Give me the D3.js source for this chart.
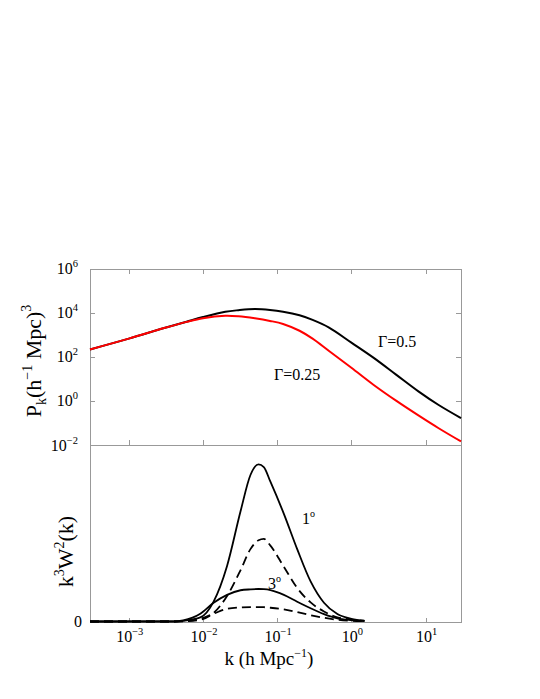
<!DOCTYPE html>
<html>
<head>
<meta charset="utf-8">
<script src="https://cdn.jsdelivr.net/npm/d3@7"></script>
<style>
  body { margin: 0; background: #fff; }
  text { font-family: "Liberation Serif", "Times New Roman", serif; fill: #000; }
</style>
</head>
<body>
<div id="chart"></div>
<script>
// top panel: power spectrum for two shape parameters
const kTop = [3e-4, 1e-3, 3e-3, 6e-3, 0.01, 0.02, 0.03, 0.05, 0.08, 0.12, 0.2, 0.3, 0.5, 1, 2, 4, 8, 15, 30];
const pGamma05 = [214, 661, 1995, 3890, 6310, 10965, 12880, 14450, 13200, 10990, 7550, 4670, 2090, 437, 89, 15.5, 2.7, 0.65, 0.166];
const pGamma025 = [214, 661, 1995, 3800, 5620, 7160, 6790, 5510, 4210, 3075, 1510, 661, 182, 31.6, 5.25, 1.02, 0.219, 0.0575, 0.0145];

// bottom panel: window functions (arbitrary units)
const kWin = [3e-4, 0.004, 0.0054, 0.0092, 0.0139, 0.0211, 0.032, 0.0436, 0.056, 0.066, 0.081, 0.123, 0.186, 0.282, 0.427, 0.647, 1.0, 1.5];
const w1Solid = [0, 0, 0.004, 0.023, 0.113, 0.315, 0.623, 0.83, 0.89, 0.875, 0.792, 0.61, 0.41, 0.227, 0.106, 0.042, 0.015, 0.004];
const w1Dashed = [0, 0, 0.001, 0.01, 0.048, 0.145, 0.29, 0.41, 0.46, 0.468, 0.43, 0.31, 0.19, 0.108, 0.057, 0.024, 0.011, 0.004];
const w3Solid = [0, 0.001, 0.007, 0.044, 0.106, 0.151, 0.177, 0.182, 0.184, 0.183, 0.178, 0.151, 0.112, 0.075, 0.042, 0.018, 0.008, 0.003];
const w3Dashed = [0, 0, 0.002, 0.015, 0.044, 0.072, 0.080, 0.082, 0.082, 0.081, 0.078, 0.069, 0.053, 0.036, 0.021, 0.010, 0.004, 0.002];

// ticks
const kTicks = [1e-3, 1e-2, 1e-1, 1, 10];
const kTickExp = ['\u22123', '\u22122', '\u22121', '0', '1'];
const pTicks = [1e-2, 1, 1e2, 1e4, 1e6];
const pTickExp = ['\u22122', '0', '2', '4', '6'];

const svg = d3.select('#chart').append('svg')
    .attr('width', 540)
    .attr('height', 699);

const x = d3.scaleLog().domain([3e-4, 30]).range([90, 461]);
const yTop = d3.scaleLog().domain([1e-2, 1e6]).range([445, 268.5]);
const yBot = d3.scaleLinear().domain([0, 1]).range([621.5, 445]);

const frame = '#999';

function styleAxis(g) {
    g.selectAll('path, line').attr('stroke', frame).attr('shape-rendering', 'crispEdges');
    g.selectAll('text').remove();
}

// frame + ticks, top panel
svg.append('g').attr('transform', 'translate(0,268.5)')
    .call(d3.axisTop(x).tickValues(kTicks).tickSize(-5).tickSizeOuter(0)).call(styleAxis);
svg.append('g').attr('transform', 'translate(0,445)')
    .call(d3.axisBottom(x).tickValues(kTicks).tickSize(-5).tickSizeOuter(0)).call(styleAxis);
svg.append('g').attr('transform', 'translate(90,0)')
    .call(d3.axisLeft(yTop).tickValues(pTicks).tickSize(-5).tickSizeOuter(0)).call(styleAxis);
svg.append('g').attr('transform', 'translate(461,0)')
    .call(d3.axisRight(yTop).tickValues(pTicks).tickSize(-5).tickSizeOuter(0)).call(styleAxis);

// frame + ticks, bottom panel
svg.append('g').attr('transform', 'translate(0,621.5)')
    .call(d3.axisBottom(x).tickValues(kTicks).tickSize(-4).tickSizeOuter(0)).call(styleAxis);
svg.append('g').attr('transform', 'translate(90,0)')
    .call(d3.axisLeft(yBot).tickValues([]).tickSizeOuter(0)).call(styleAxis);
svg.append('g').attr('transform', 'translate(461,0)')
    .call(d3.axisRight(yBot).tickValues([]).tickSizeOuter(0)).call(styleAxis);

// power-of-ten labels
function powLabel(sel, exps) {
    sel.each(function (d, i) {
        const t = d3.select(this);
        t.append('tspan').style('font-size', '16px').text('10');
        t.append('tspan').attr('dy', -7).style('font-size', '10.5px').text(exps[i]);
    });
}

svg.append('g').selectAll('text').data(kTicks).join('text')
    .attr('x', d => x(d) + 1)
    .attr('y', 641.5)
    .attr('text-anchor', 'middle')
    .call(powLabel, kTickExp);

svg.append('g').selectAll('text').data(pTicks).join('text')
    .attr('x', 78)
    .attr('y', d => yTop(d) + 5.5)
    .attr('text-anchor', 'end')
    .call(powLabel, pTickExp);

svg.append('text')
    .attr('x', 82).attr('y', yBot(0) + 5.5)
    .attr('text-anchor', 'end')
    .style('font-size', '16px')
    .text('0');

// curves
const lineTop = d3.line()
    .x(d => x(d[0]))
    .y(d => yTop(d[1]))
    .curve(d3.curveCatmullRom.alpha(0.5));

svg.append('path').datum(d3.zip(kTop, pGamma05))
    .attr('d', lineTop).attr('fill', 'none')
    .attr('stroke', '#000').attr('stroke-width', 2);
svg.append('path').datum(d3.zip(kTop, pGamma025))
    .attr('d', lineTop).attr('fill', 'none')
    .attr('stroke', '#f00').attr('stroke-width', 2);

const lineBot = d3.line()
    .x(d => x(d[0]))
    .y(d => yBot(d[1]))
    .curve(d3.curveMonotoneX);

const winSeries = [
    { vals: w3Dashed, dash: '9,5' },
    { vals: w3Solid, dash: null },
    { vals: w1Dashed, dash: '9,5' },
    { vals: w1Solid, dash: null }
];
winSeries.forEach(s => {
    svg.append('path').datum(d3.zip(kWin, s.vals))
        .attr('d', lineBot).attr('fill', 'none')
        .attr('stroke', '#000').attr('stroke-width', 1.8)
        .attr('stroke-dasharray', s.dash);
});

// annotations
svg.append('text').attr('x', 378).attr('y', 347).style('font-size', '16px').text('\u0393=0.5');
svg.append('text').attr('x', 274).attr('y', 379.5).style('font-size', '16px').text('\u0393=0.25');

function degLabel(xp, yp, num) {
    const t = svg.append('text').attr('x', xp).attr('y', yp).style('font-size', '16px');
    t.append('tspan').text(num);
    t.append('tspan').attr('dy', -7).style('font-size', '10px').text('o');
}
degLabel(302, 523.5, '1');
degLabel(268, 588.5, '3');

// axis titles
const tTop = svg.append('text')
    .attr('transform', 'translate(41,361) rotate(-90)')
    .attr('text-anchor', 'middle')
    .style('font-size', '22px');
tTop.append('tspan').text('P');
tTop.append('tspan').attr('dy', 5).style('font-size', '14px').text('k');
tTop.append('tspan').attr('dy', -5).text('(h');
tTop.append('tspan').attr('dy', -9).style('font-size', '14px').text('\u22121');
tTop.append('tspan').attr('dy', 9).text(' Mpc)');
tTop.append('tspan').attr('dy', -10).style('font-size', '14px').text('3');

const tBot = svg.append('text')
    .attr('transform', 'translate(73,551.5) rotate(-90)')
    .attr('text-anchor', 'middle')
    .style('font-size', '22px');
tBot.append('tspan').text('k');
tBot.append('tspan').attr('dy', -9).style('font-size', '14px').text('3');
tBot.append('tspan').attr('dy', 9).text('W');
tBot.append('tspan').attr('dy', -9).style('font-size', '14px').text('2');
tBot.append('tspan').attr('dy', 9).text('(k)');

const tX = svg.append('text')
    .attr('x', 269).attr('y', 665)
    .attr('text-anchor', 'middle')
    .style('font-size', '19px');
tX.append('tspan').text('k (h Mpc');
tX.append('tspan').attr('dy', -8).style('font-size', '12px').text('\u22121');
tX.append('tspan').attr('dy', 8).text(')');
</script>
</body>
</html>
